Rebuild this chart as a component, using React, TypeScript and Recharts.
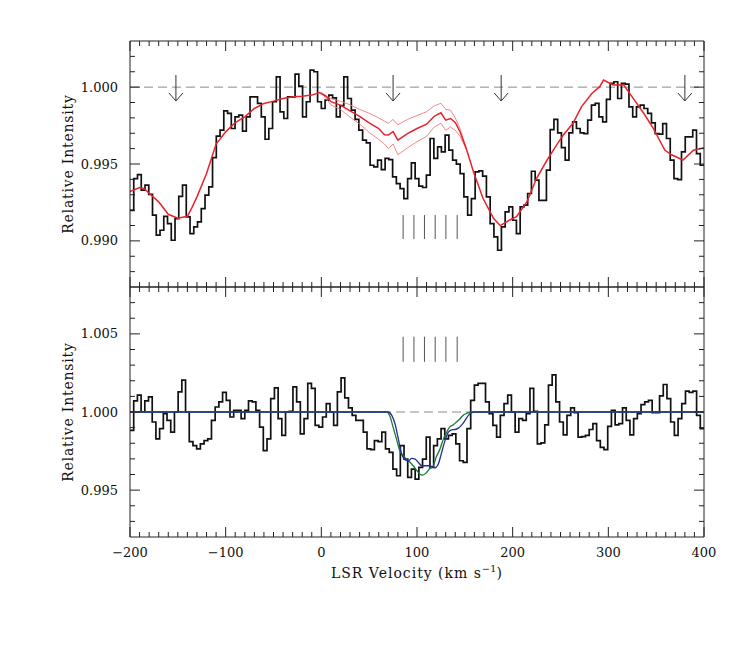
import React from 'react';
import { ComposedChart, Line, XAxis, YAxis, ReferenceLine, Scatter } from 'recharts';

// ---------------- data ----------------
// Observed spectrum (top panel), uniform channels from -200 to 400 km/s
const spectrumTop = [
  0.99199, 0.99405, 0.99431, 0.99330, 0.99362, 0.99303, 0.99167, 0.99037, 0.99069, 0.99160,
  0.99112, 0.99004, 0.99145, 0.99290, 0.99362, 0.99156, 0.99047, 0.99091, 0.99123, 0.99210,
  0.99297, 0.99351, 0.99542, 0.99681, 0.99720, 0.99846, 0.99829, 0.99731, 0.99807, 0.99818,
  0.99714, 0.99807, 0.99937, 0.99937, 0.99894, 0.99807, 0.99661, 0.99731, 0.99905, 1.00067,
  0.99839, 0.99796, 0.99937, 0.99937, 1.00085, 1.00007, 0.99807, 0.99905, 1.00111, 1.00100,
  0.99905, 0.99861, 0.99915,
  0.99948, 0.99930, 0.99807, 0.99880, 1.00067, 0.99926, 0.99850, 0.99790, 0.99720, 0.99655,
  0.99638, 0.99492, 0.99481, 0.99525, 0.99464, 0.99536, 0.99529, 0.99416, 0.99373, 0.99340,
  0.99275, 0.99405, 0.99507, 0.99405, 0.99356, 0.99347, 0.99427, 0.99666, 0.99536, 0.99612,
  0.99579, 0.99688, 0.99590, 0.99525, 0.99499, 0.99438, 0.99286, 0.99167, 0.99275, 0.99449,
  0.99455, 0.99421, 0.99286, 0.99112, 0.99026, 0.98939, 0.99091, 0.99188, 0.99221, 0.99134,
  0.99047, 0.99221,
  0.99232, 0.99308, 0.99453, 0.99395, 0.99264, 0.99264, 0.99460, 0.99724, 0.99790, 0.99703,
  0.99607, 0.99525, 0.99703, 0.99774, 0.99731, 0.99703, 0.99698, 0.99785, 0.99883, 0.99894,
  0.99807, 0.99774, 0.99920, 1.00024, 1.00035, 0.99926, 1.00024, 1.00020, 0.99872, 0.99807,
  0.99872, 0.99883, 0.99861, 0.99829, 0.99768, 0.99698, 0.99694, 0.99763, 0.99666, 0.99525,
  0.99405, 0.99399, 0.99579, 0.99677, 0.99677, 0.99720, 0.99568, 0.99492,
];

// Normalised spectrum (bottom panel)
const spectrumBottom = [
  0.99882, 1.00071, 1.00108, 1.00000, 1.00071, 1.00097, 0.99936, 0.99828, 0.99893, 0.99989,
  0.99946, 0.99871, 1.00000, 1.00129, 1.00204, 1.00000, 0.99811, 0.99785, 0.99764, 0.99796,
  0.99817, 0.99828, 0.99946, 1.00032, 1.00065, 1.00125, 1.00075, 0.99968, 1.00011, 1.00011,
  0.99957, 1.00011, 1.00071, 1.00065, 1.00011, 0.99903, 0.99753, 0.99828, 1.00086, 1.00155,
  0.99957, 0.99850, 1.00000, 1.00004, 1.00161, 1.00065, 0.99860, 0.99957, 1.00183, 1.00151,
  0.99914, 0.99903, 0.99968,
  1.00054, 1.00000, 0.99914, 1.00129, 1.00219, 1.00090, 1.00026, 0.99979, 0.99946, 0.99946,
  0.99871, 0.99764, 0.99759, 0.99817, 0.99811, 0.99871, 0.99764, 0.99742, 0.99635, 0.99592,
  0.99785, 0.99699, 0.99581, 0.99635, 0.99570, 0.99645, 0.99699, 0.99839, 0.99645, 0.99785,
  0.99828, 0.99893, 0.99828, 0.99850, 0.99860, 0.99796, 0.99688, 0.99678, 0.99893, 1.00075,
  1.00172, 1.00183, 1.00183, 1.00065, 0.99989, 0.99914, 0.99839, 0.99979, 1.00054, 1.00108,
  1.00000, 0.99871, 0.99957,
  0.99946, 0.99989, 1.00151, 1.00004, 0.99796, 0.99802, 0.99918, 1.00172, 1.00237, 1.00065,
  0.99936, 0.99854, 0.99979, 1.00026, 0.99996, 0.99839, 0.99843, 0.99850, 0.99888, 0.99925,
  0.99817, 0.99774, 0.99759, 0.99908, 1.00011, 0.99918, 0.99925, 1.00026, 0.99946, 0.99854,
  0.99957, 0.99989, 1.00047, 1.00065, 1.00075, 0.99996, 0.99996, 1.00103, 1.00176, 1.00086,
  0.99936, 0.99850, 0.99957, 1.00054, 1.00133, 1.00125, 1.00133, 0.99979, 0.99893,
];

// Baseline model (red)
const baselineVel = [
  -200, -190, -185, -180, -170, -160, -155, -150, -140, -135, -130, -120, -110, -100, -90, -80,
  -70, -60, -50, -40, -30, -20, -10, -2, 5, 10, 20, 30, 40, 50, 60, 66, 70, 75, 80, 90, 100,
  110, 118, 125, 130, 135, 140, 145, 152, 159, 169, 180, 187, 197, 204, 215, 225, 236, 246,
  253, 263, 272, 283, 291, 295, 305, 316, 326, 337, 347, 359, 366, 378, 389, 400,
];
const baselineVal = [
  0.99320, 0.99347, 0.99340, 0.99310, 0.99254, 0.99173, 0.99160, 0.99147, 0.99160, 0.99220,
  0.99286, 0.99438, 0.99630, 0.99709, 0.99770, 0.99807, 0.99861, 0.99894, 0.99909, 0.99926,
  0.99937, 0.99941, 0.99948, 0.99965, 0.99940, 0.99905, 0.99883, 0.99846, 0.99810, 0.99768,
  0.99731, 0.99690, 0.99688, 0.99711, 0.99655, 0.99698, 0.99731, 0.99759, 0.99810, 0.99833,
  0.99785, 0.99796, 0.99770, 0.99710, 0.99591, 0.99450, 0.99277, 0.99147, 0.99099, 0.99136,
  0.99157, 0.99255, 0.99407, 0.99526, 0.99624, 0.99689, 0.99765, 0.99873, 0.99960, 1.00003,
  1.00046, 1.00014, 1.00015, 0.99927, 0.99830, 0.99732, 0.99591, 0.99560, 0.99526, 0.99590,
  0.99606,
];
// Baseline uncertainty envelope
const envelopeVel = [0, 10, 20, 30, 40, 50, 60, 66, 70, 75, 80, 90, 100, 110, 118, 125, 130, 135, 140, 145, 152];
const envelopeHigh = [
  0.99965, 0.99925, 0.99908, 0.99885, 0.99855, 0.99830, 0.99800, 0.99778, 0.99765, 0.99790,
  0.99755, 0.99790, 0.99815, 0.99840, 0.99878, 0.99895, 0.99855, 0.99850, 0.99800, 0.99730,
  0.99591,
];
const envelopeLow = [
  0.99965, 0.99885, 0.99855, 0.99805, 0.99760, 0.99705, 0.99660, 0.99630, 0.99600, 0.99630,
  0.99560, 0.99605, 0.99645, 0.99680, 0.99740, 0.99765, 0.99720, 0.99740, 0.99720, 0.99680,
  0.99591,
];

// Absorption models (bottom panel)
const blueVel = [-200, 70, 73.6, 77, 80.5, 84, 87.5, 91, 94.5, 98, 101.4, 105, 108.4, 111.8, 115.4, 118.8, 122.3, 125.8, 129.3, 132.8, 136.3, 139.8, 143.2, 146.8, 150.2, 153.7, 157.2, 160.6, 400];
const blueVal = [1, 1, 0.99978, 0.99925, 0.99828, 0.99731, 0.99695, 0.99688, 0.99703, 0.99699, 0.99677, 0.99656, 0.99656, 0.99656, 0.99652, 0.99643, 0.99667, 0.99742, 0.99817, 0.99871, 0.99886, 0.99888, 0.99897, 0.99918, 0.99946, 0.99978, 0.99996, 1, 1];
const greenVel = [-200, 68.5, 72, 75, 79, 82, 86, 89, 93, 96, 100, 103, 106, 110, 113, 117, 120, 124, 127, 131, 134, 138, 141, 145, 148, 152, 155, 159, 400];
const greenVal = [1, 1, 0.99968, 0.99903, 0.99817, 0.99752, 0.99716, 0.99699, 0.99677, 0.99656, 0.99624, 0.99602, 0.99596, 0.99613, 0.99635, 0.99656, 0.99710, 0.99763, 0.99817, 0.99871, 0.99903, 0.99918, 0.99935, 0.99957, 0.99978, 0.99991, 0.99998, 1, 1];

// Markers
const arrowVel = [-152, 75, 188, 380];
const arrowTop = 1.00079;
const componentVel = [85.5, 96.8, 107.8, 119, 130.2, 142];
const componentTopRange = [0.99012, 0.99168];
const componentBottomRange = [1.00321, 1.00482];

// Axes
const xRange = [-200, 400];
const xMajorTicks = [-200, -100, 0, 100, 200, 300, 400];
const topYRange = [0.987, 1.003];
const bottomYRange = [0.992, 1.008];
const topYMajor = [0.990, 0.995, 1.000];
const bottomYMajor = [0.995, 1.000, 1.005];

// ---------------- helpers ----------------
const FONT = '"DejaVu Serif", "Liberation Serif", serif';
const xTicks: number[] = [];
for (let v = xRange[0]; v <= xRange[1]; v += 10) xTicks.push(v);
const yTicksFor = (r: number[]) => {
  const out: number[] = [];
  for (let k = Math.round(r[0] * 1000) + 1; k < Math.round(r[1] * 1000); k++) out.push(k / 1000);
  return out;
};
const topYTicks = yTicksFor(topYRange);
const bottomYTicks = yTicksFor(bottomYRange);

const histogram = (vals: number[]) => {
  const w = (xRange[1] - xRange[0]) / vals.length;
  const pts = vals.map((y, i) => ({ x: xRange[0] + i * w, y }));
  pts.push({ x: xRange[1], y: vals[vals.length - 1] });
  return pts;
};
const pairs = (xs: number[], ys: number[]) => xs.map((x, i) => ({ x, y: ys[i] }));

const topHist = histogram(spectrumTop);
const bottomHist = histogram(spectrumBottom);
const baseline = pairs(baselineVel, baselineVal);
const envHigh = pairs(envelopeVel, envelopeHigh);
const envLow = pairs(envelopeVel, envelopeLow);
const blue = pairs(blueVel, blueVal);
const green = pairs(greenVel, greenVal);
const arrows = arrowVel.map((x) => ({ x, y: arrowTop }));

const fmtX = (v: number) => (v < 0 ? '\u2212' + Math.abs(v) : String(v));

const XTick = (props: any) => {
  const { x, y, payload, dir, showLabel } = props;
  const v = payload.value;
  const major = xMajorTicks.includes(v);
  const len = major ? 10 : 5;
  return (
    <g>
      <line x1={x} x2={x} y1={y} y2={y + dir * len} stroke="#222" strokeWidth={1} />
      {showLabel && major && (
        <text x={x} y={y + 20} textAnchor="middle" fontFamily={FONT} fontSize={13} fill="#111">
          {fmtX(v)}
        </text>
      )}
    </g>
  );
};

const YTick = (props: any) => {
  const { x, y, payload, dir, showLabel, majors } = props;
  const v = payload.value;
  const major = majors.some((m: number) => Math.abs(m - v) < 1e-7);
  const len = major ? 10 : 5;
  return (
    <g>
      <line x1={x} x2={x + dir * len} y1={y} y2={y} stroke="#222" strokeWidth={1} />
      {showLabel && major && (
        <text x={x - 12} y={y + 4.5} textAnchor="end" fontFamily={FONT} fontSize={13} fill="#111">
          {v.toFixed(3)}
        </text>
      )}
    </g>
  );
};

const yTitle = (props: any) => {
  const vb = props.viewBox || {};
  const cx = vb.x + vb.width - 57;
  const cy = vb.y + vb.height / 2;
  return (
    <text x={cx} y={cy} transform={`rotate(-90 ${cx} ${cy})`} textAnchor="middle" fontFamily={FONT} fontSize={14} letterSpacing={0.8} fill="#111">
      Relative Intensity
    </text>
  );
};

const xTitle = (props: any) => {
  const vb = props.viewBox || {};
  return (
    <text x={vb.x + vb.width / 2} y={vb.y + 41} textAnchor="middle" fontFamily={FONT} fontSize={14} letterSpacing={1} fill="#111">
      LSR Velocity (km s<tspan dy={-6} fontSize={9.5} letterSpacing={0.3}>{'\u22121'}</tspan>
      <tspan dy={6}>)</tspan>
    </text>
  );
};

const ArrowMark = (props: any) => {
  const { cx, cy } = props;
  if (cx == null || cy == null) return null;
  return (
    <g stroke="#333" strokeWidth={1} fill="none">
      <line x1={cx} x2={cx} y1={cy} y2={cy + 26} />
      <polyline points={`${cx - 7},${cy + 18} ${cx},${cy + 26} ${cx + 7},${cy + 18}`} />
    </g>
  );
};

const Axes = ({ yRange, yTicks, yMajors, xLabels }: any) => [
  <XAxis
    key="xb"
    xAxisId="b"
    dataKey="x"
    type="number"
    orientation="bottom"
    domain={xRange}
    allowDataOverflow
    ticks={xTicks}
    interval={0}
    height={1}
    tickSize={0}
    tickMargin={0}
    tickLine={false}
    axisLine={{ stroke: '#222', strokeWidth: 1 }}
    tick={(p: any) => <XTick {...p} dir={-1} showLabel={xLabels} />}
    label={xLabels ? xTitle : undefined}
  />,
  <XAxis
    key="xt"
    xAxisId="t"
    dataKey="x"
    type="number"
    orientation="top"
    domain={xRange}
    allowDataOverflow
    ticks={xTicks}
    interval={0}
    height={1}
    tickSize={0}
    tickMargin={0}
    tickLine={false}
    axisLine={{ stroke: '#222', strokeWidth: 1 }}
    tick={(p: any) => <XTick {...p} dir={1} showLabel={false} />}
  />,
  <YAxis
    key="yl"
    yAxisId="l"
    type="number"
    orientation="left"
    domain={yRange}
    allowDataOverflow
    ticks={yTicks}
    interval={0}
    width={1}
    tickSize={0}
    tickMargin={0}
    tickLine={false}
    axisLine={{ stroke: '#222', strokeWidth: 1 }}
    tick={(p: any) => <YTick {...p} dir={1} showLabel={true} majors={yMajors} />}
    label={yTitle}
  />,
  <YAxis
    key="yr"
    yAxisId="r"
    type="number"
    orientation="right"
    domain={yRange}
    allowDataOverflow
    ticks={yTicks}
    interval={0}
    width={1}
    tickSize={0}
    tickMargin={0}
    tickLine={false}
    axisLine={{ stroke: '#222', strokeWidth: 1 }}
    tick={(p: any) => <YTick {...p} dir={-1} showLabel={false} majors={yMajors} />}
  />,
];

const RED = '#e8232b';
const ENV = '#f27a7a';
const BLUE = '#24318f';
const GREEN = '#1b7a36';

export default function App() {
  return (
    <div style={{ position: 'absolute', left: 0, top: 0, width: 747, height: 648, background: '#fff' }}>
      <div style={{ position: 'absolute', left: 0, top: 0 }}>
        <ComposedChart width={747} height={300} margin={{ top: 40, right: 42, bottom: 12, left: 129 }}>
          {Axes({ yRange: topYRange, yTicks: topYTicks, yMajors: topYMajor, xLabels: false })}
          <ReferenceLine xAxisId="b" yAxisId="l" y={1} stroke="#8a8a8a" strokeDasharray="9 5" strokeWidth={1} />
          {componentVel.map((v) => (
            <ReferenceLine
              key={'ct' + v}
              xAxisId="b"
              yAxisId="l"
              segment={[{ x: v, y: componentTopRange[0] }, { x: v, y: componentTopRange[1] }]}
              stroke="#555"
              strokeWidth={1}
            />
          ))}
          <Line xAxisId="b" yAxisId="l" data={topHist} dataKey="y" type="stepAfter" stroke="#111" strokeWidth={1.7} dot={false} isAnimationActive={false} />
          <Line xAxisId="b" yAxisId="l" data={envHigh} dataKey="y" type="linear" stroke={ENV} strokeWidth={0.9} dot={false} isAnimationActive={false} />
          <Line xAxisId="b" yAxisId="l" data={envLow} dataKey="y" type="linear" stroke={ENV} strokeWidth={0.9} dot={false} isAnimationActive={false} />
          <Line xAxisId="b" yAxisId="l" data={baseline} dataKey="y" type="linear" stroke={RED} strokeWidth={1.5} dot={false} isAnimationActive={false} />
          <Scatter xAxisId="b" yAxisId="l" data={arrows} dataKey="y" shape={ArrowMark} isAnimationActive={false} />
        </ComposedChart>
      </div>
      <div style={{ position: 'absolute', left: 0, top: 280 }}>
        <ComposedChart width={747} height={368} margin={{ top: 6, right: 42, bottom: 110, left: 129 }}>
          {Axes({ yRange: bottomYRange, yTicks: bottomYTicks, yMajors: bottomYMajor, xLabels: true })}
          <ReferenceLine xAxisId="b" yAxisId="l" y={1} stroke="#8a8a8a" strokeDasharray="9 5" strokeWidth={1} />
          {componentVel.map((v) => (
            <ReferenceLine
              key={'cb' + v}
              xAxisId="b"
              yAxisId="l"
              segment={[{ x: v, y: componentBottomRange[0] }, { x: v, y: componentBottomRange[1] }]}
              stroke="#555"
              strokeWidth={1}
            />
          ))}
          <Line xAxisId="b" yAxisId="l" data={bottomHist} dataKey="y" type="stepAfter" stroke="#111" strokeWidth={1.7} dot={false} isAnimationActive={false} />
          <Line xAxisId="b" yAxisId="l" data={green} dataKey="y" type="monotone" stroke={GREEN} strokeWidth={1.3} dot={false} isAnimationActive={false} />
          <Line xAxisId="b" yAxisId="l" data={blue} dataKey="y" type="monotone" stroke={BLUE} strokeWidth={1.3} dot={false} isAnimationActive={false} />
        </ComposedChart>
      </div>
    </div>
  );
}
